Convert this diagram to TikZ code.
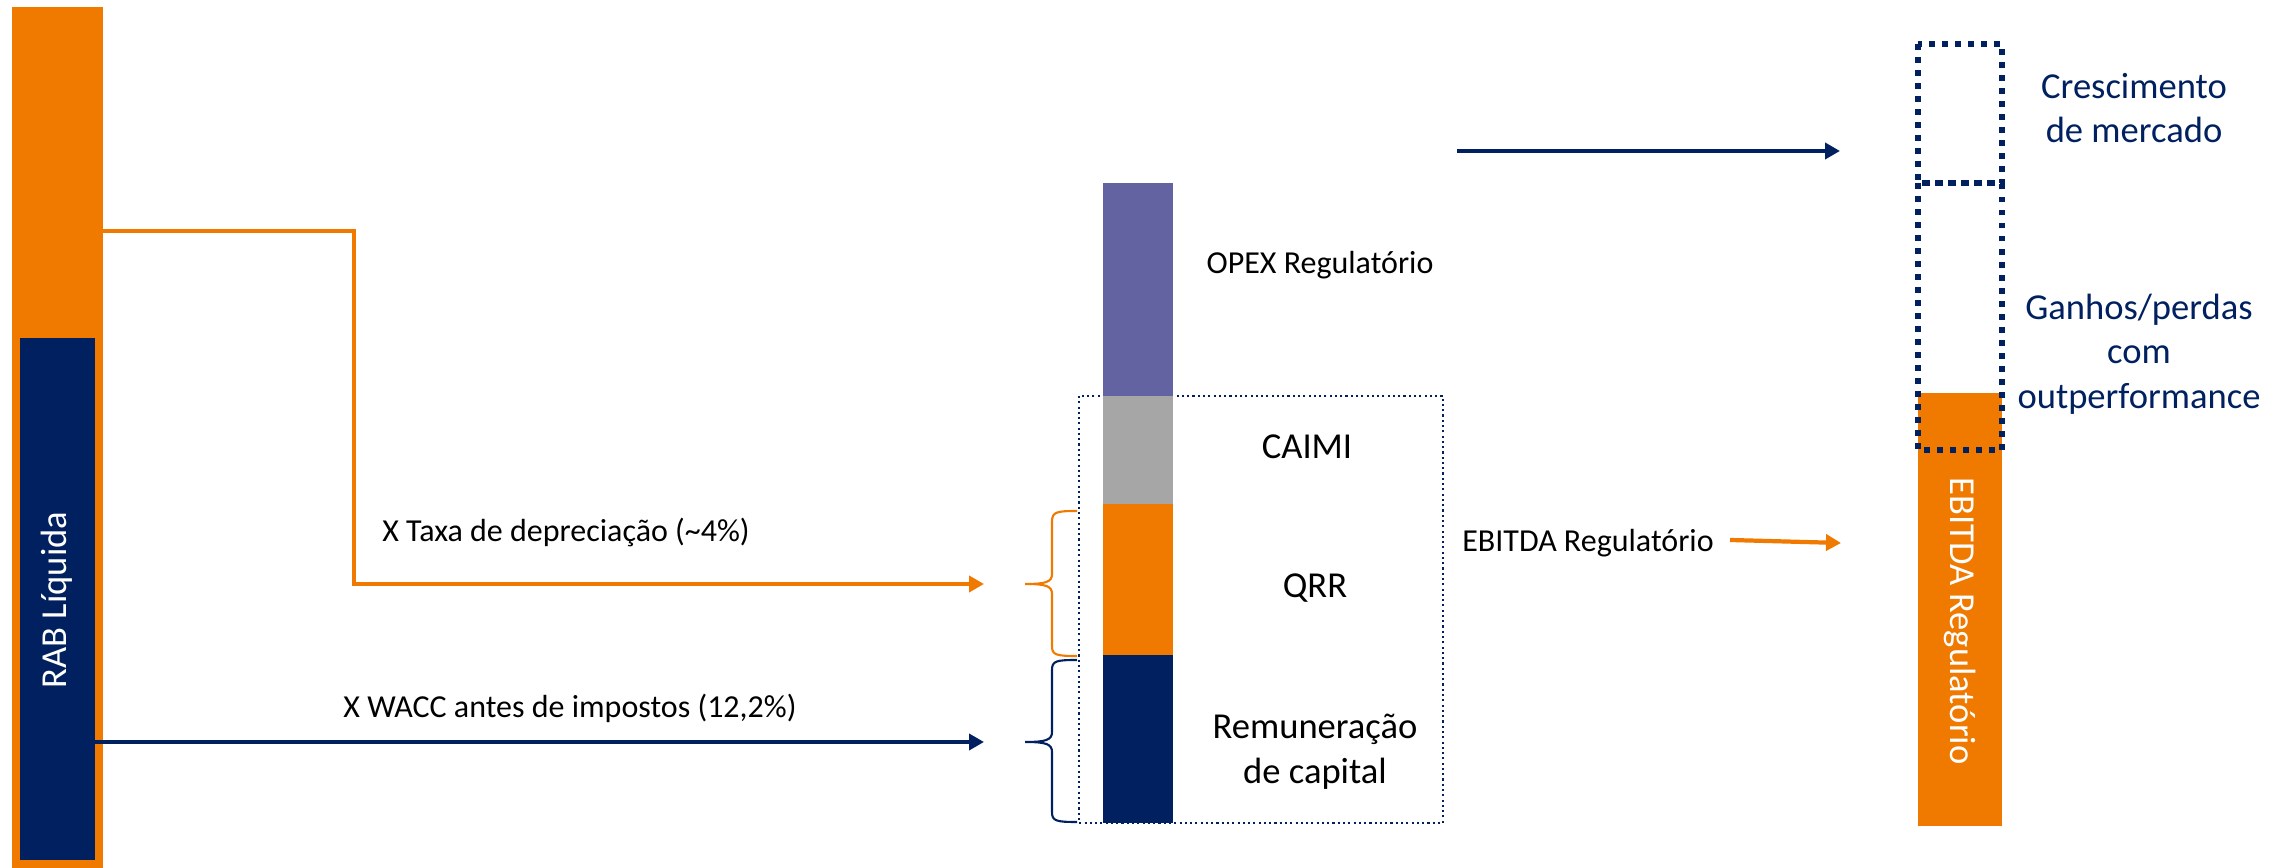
\documentclass[tikz,border=0pt]{standalone}
\usepackage{fontspec}
\setmainfont{Carlito}
\usetikzlibrary{arrows.meta,positioning}
\definecolor{raborange}{RGB}{240,121,0}
\definecolor{rabnavy}{RGB}{0,32,96}
\definecolor{opexpurple}{RGB}{100,99,161}
\definecolor{caimigray}{RGB}{166,166,166}

\begin{document}
\begin{tikzpicture}[x=0.01cm, y=-0.01cm,
  every node/.style={font=\fontsize{9.1}{11}\selectfont, inner sep=0pt},
  biglbl/.style={font=\fontsize{10.4}{12.7}\selectfont, align=center},
  flow/.style={line width=1.4pt, -{Triangle[length=0.15cm,width=0.16cm]}},
  bracket/.style={line width=0.6pt},
  outline/.style={rabnavy, line width=1.6pt, dash pattern=on 1.6pt off 2.1pt}]
% page frame, 1 unit = 1 px of the original slide
\useasboundingbox (0,0) rectangle (2293,868);

% RAB bar (left)
\fill[raborange] (12,7) rectangle (103,868);
\fill[rabnavy] (20,338) rectangle (95,860);
\node[white, biglbl, rotate=90] (rab) at (57,600) {RAB Líquida};

% end points of the two flows
\coordinate (depStart) at (103,231);
\coordinate (depBend) at (354,231);
\coordinate (depEnd) at (984,584);
\coordinate (waccStart) at (95,742);
\coordinate (waccEnd) at (984,742);

\draw[flow, raborange] (depStart) -- (depBend) |- (depEnd);
\draw[flow, rabnavy] (waccStart) -- (waccEnd);
\node[anchor=base] (taxa) at (566,542) {X Taxa de depreciação (\textasciitilde4\%)};
\node[anchor=base] (wacc) at (570,718) {X WACC antes de impostos (12,2\%)};

% braces in front of the revenue stack
\draw[raborange, bracket] (1077,511) .. controls (1056,511) and (1052,512) .. (1052,522)
  -- (1052,574) .. controls (1052,582) and (1046,584) .. (1025,584)
  .. controls (1046,584) and (1052,586) .. (1052,594)
  -- (1052,646) .. controls (1052,655) and (1056,656) .. (1077,656);
\draw[rabnavy, bracket] (1077,660) .. controls (1056,660) and (1052,661) .. (1052,670)
  -- (1052,732) .. controls (1052,740) and (1046,742) .. (1025,742)
  .. controls (1046,742) and (1052,744) .. (1052,752)
  -- (1052,812) .. controls (1052,821) and (1056,822) .. (1077,822);

% EBITDA frame (dotted)
\draw[rabnavy, line width=0.6pt, dash pattern=on 0.6pt off 0.9pt] (1079,396) rectangle (1443,823);

% revenue stack (middle)
\fill[opexpurple] (1103,183) rectangle (1173,396);
\fill[caimigray] (1103,396) rectangle (1173,504);
\fill[raborange] (1103,504) rectangle (1173,655);
\fill[rabnavy] (1103,655) rectangle (1173,823);

\node[anchor=base] (opex) at (1320,274) {OPEX Regulatório};
\node[biglbl, anchor=base] (caimi) at (1307,459) {CAIMI};
\node[biglbl, anchor=base] (qrr) at (1315,598) {QRR};
\node[biglbl] (remun) at (1315,752) {Remuneração\\de capital};

\node[anchor=base] (ebitda) at (1588,552) {EBITDA Regulatório};
\coordinate (ebitdaStart) at (1730,540);
\coordinate (ebitdaEnd) at (1841,543);
\draw[flow, raborange, line width=1.2pt] (ebitdaStart) -- (ebitdaEnd);

\coordinate (growStart) at (1457,151);
\coordinate (growEnd) at (1840,151);
\draw[flow, rabnavy, line width=1.3pt] (growStart) -- (growEnd);

% regulatory EBITDA bar (right)
\fill[raborange] (1918,393) rectangle (2002,826);
\draw[outline] (1918,44) rectangle (2002,183);
\draw[outline] (1918,183) rectangle (2002,450);
\node[white, biglbl, rotate=-90] (ebitdabar) at (1960,621) {EBITDA Regulatório};

\node[rabnavy, biglbl] (cresc) at (2134,108) {Crescimento\\de mercado};
\node[rabnavy, biglbl] (ganhos) at (2139,354) {Ganhos/perdas\\com\\outperformance};

\end{tikzpicture}
\end{document}
